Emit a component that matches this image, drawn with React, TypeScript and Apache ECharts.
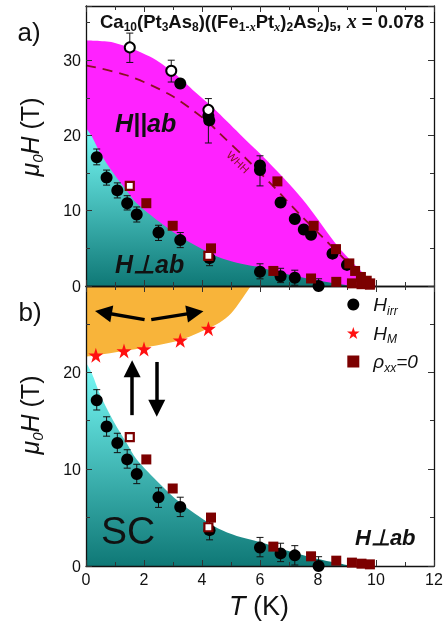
import React, { useEffect, useRef } from "react";
import * as echarts from "echarts";

// ---------- data (T in K, field in T) ----------
const perpHirr = [[0.37,17.1],[0.71,14.4],[1.08,12.7],[1.42,11.0],[1.75,9.5],[2.5,7.1],[3.25,6.1],[4.26,3.7],[6.0,1.9],[6.71,1.3],[7.2,1.1],[8.02,0.0]];
const perpHirrErr = [[0.37,16.1,18.2],[0.71,13.4,15.4],[1.08,11.7,13.7],[1.42,10.1,12.0],[1.75,8.5,10.5],[2.5,6.05,8.07],[3.25,5.1,7.1],[4.26,2.7,5.3],[6.0,0.95,2.95],[6.71,0.45,2.35],[7.2,0.1,2.1],[8.02,0,0.96]];
const paraHirr = [[3.25,26.9],[4.22,22.6],[4.25,22.0],[6.0,16.0],[6.0,15.4],[6.71,11.1],[7.2,8.9],[7.51,7.5],[7.76,6.8],[8.5,4.3],[9.0,2.8]];
const paraHirrOpen = [[1.51,31.7],[2.94,28.6],[4.22,23.4]];
const paraHirrErr = [[1.51,29.7,33.6],[2.94,27.1,30.0],[4.22,19.0,24.9],[6.0,13.3,17.3]];
const perpRho = [[2.08,11.0],[2.99,8.0],[4.31,5.0],[6.46,2.0],[7.76,1.0],[8.63,0.55],[9.17,0.35],[9.5,0.24],[9.79,0.17]];
const perpRhoOpen = [[1.51,13.3],[4.22,4.0]];
const paraRho = [[6.6,13.9],[7.85,8.0],[8.62,4.9],[9.08,3.0],[9.28,2.0],[9.48,1.2],[9.68,0.7],[9.8,0.35]];
const hM = [[0.34,21.75],[1.31,22.2],[2.0,22.4],[3.25,23.3],[4.22,24.5]];
const whh = [[0,29.3],[1.4,28.0],[2.9,25.4],[4.14,22.0],[4.6,20.3],[5.5,17.0],[6.37,13.6],[7.34,9.65],[8.14,6.55],[8.94,3.45],[9.62,0.8],[9.8,0]];
const paraBound = [[0,32.6],[1.0,32.3],[2.2,30.5],[3.0,28.4],[3.9,25.3],[4.4,23.6],[5.3,20.2],[6.1,17.2],[7.0,13.6],[7.6,10.9],[8.7,5.2],[9.3,2.7],[9.85,0.6],[10.0,0]];
const perpBound = [[0,21.0],[0.2,19.9],[0.5,17.6],[0.94,15.0],[1.4,12.7],[1.75,11.0],[2.54,8.5],[3.22,6.6],[4.0,4.9],[4.54,3.9],[5.2,3.1],[5.97,2.5],[6.8,1.7],[7.68,0.96],[8.5,0.4],[9.15,0]];
const hmBound = [[0,21.6],[0.34,21.75],[1.31,22.2],[1.96,22.5],[3.22,23.3],[4.14,24.4],[4.6,25.1],[5.0,26.05],[5.34,27.4],[5.68,28.9]];
// arrows in panel b: [start, end]
const arrows = [
  [[2.02,25.43],[0.6,26.17]],
  [[2.25,25.43],[3.76,26.15]],
  [[1.59,15.57],[1.59,20.36]],
  [[2.44,21.06],[2.44,16.27]],
];
const xTicks = { min: 0, max: 12, interval: 2 };
const yMaxA = 37.2;
const yMaxB = 28.9;

const FONT = "Liberation Sans";
const STAR = "path://M50,0 L61.2,34.5 L97.6,34.5 L68.2,55.9 L79.4,90.5 L50,69.1 L20.6,90.5 L31.8,55.9 L2.4,34.5 L38.8,34.5 Z";
const SQUARE = "path://M0,0 L10,0 L10,10 L0,10 Z";
const DARKRED = "#7c0000";

const xAx = (grid: number, pos: string, labels: boolean) => ({
  type: "value", gridIndex: grid, position: pos, ...xTicks, z: 3,
  axisLine: { show: true, onZero: false, lineStyle: { color: "#111", width: 1.3 } },
  axisTick: { show: true, inside: true, length: 6, lineStyle: { color: "#333", width: 1 } },
  minorTick: { show: true, splitNumber: 2, length: 4, lineStyle: { color: "#333", width: 1 } },
  splitLine: { show: false },
  axisLabel: { show: labels, fontSize: 16, color: "#111", margin: 5, fontFamily: FONT },
});
const yAx = (grid: number, pos: string, labels: boolean, max: number) => ({
  type: "value", gridIndex: grid, position: pos, min: 0, max, interval: 10, z: 3,
  axisLine: { show: true, onZero: false, lineStyle: { color: "#111", width: 1.3 } },
  axisTick: { show: true, inside: true, length: 6, lineStyle: { color: "#333", width: 1 } },
  minorTick: { show: true, splitNumber: 2, length: 4, lineStyle: { color: "#333", width: 1 } },
  splitLine: { show: false },
  axisLabel: { show: labels, fontSize: 16, color: "#111", margin: 5, fontFamily: FONT, showMaxLabel: false },
});

const tealGrad = () => new echarts.graphic.LinearGradient(0, 0, 0, 1, [
  { offset: 0, color: "#78fbf8" },
  { offset: 1, color: "#0f7876" },
]);

const area = (data: number[][], xi: number, yi: number, color: any, extra: any = {}) => ({
  type: "line", xAxisIndex: xi, yAxisIndex: yi, data, symbol: "none", smooth: 0.3, z: 1,
  lineStyle: { width: 0 }, areaStyle: { color, opacity: 1, ...extra }, silent: true,
});

const errBars = (data: number[][], xi: number, yi: number) => ({
  type: "custom", xAxisIndex: xi, yAxisIndex: yi, data, z: 4, silent: true,
  encode: { x: 0, y: [1, 2] },
  renderItem: (params: any, api: any) => {
    const x = api.value(0);
    const p1 = api.coord([x, api.value(1)]);
    const p2 = api.coord([x, api.value(2)]);
    const s = { stroke: "#111", lineWidth: 1 };
    const c = 3.5;
    return {
      type: "group",
      children: [
        { type: "line", shape: { x1: p1[0], y1: p1[1], x2: p2[0], y2: p2[1] }, style: s },
        { type: "line", shape: { x1: p1[0] - c, y1: p1[1], x2: p1[0] + c, y2: p1[1] }, style: s },
        { type: "line", shape: { x1: p2[0] - c, y1: p2[1], x2: p2[0] + c, y2: p2[1] }, style: s },
      ],
    };
  },
});

const scat = (name: string, data: number[][], xi: number, yi: number, symbol: string, size: number, itemStyle: any) => ({
  type: "scatter", name, xAxisIndex: xi, yAxisIndex: yi, data, symbol, symbolSize: size, z: 5,
  itemStyle: { opacity: 1, ...itemStyle },
});

const filledCircle = { color: "#000" };
const openCircle = { color: "#fff", borderColor: "#000", borderWidth: 2 };
const filledSq = { color: DARKRED };
const openSq = { color: "#fff", borderColor: DARKRED, borderWidth: 2.2 };
const starStyle = { color: "#ff1010" };

const option: any = {
  animation: false,
  grid: [
    { left: 86, right: 12, top: 6, height: 280 },
    { left: 86, right: 12, top: 286, height: 280 },
  ],
  xAxis: [xAx(0, "bottom", false), xAx(0, "top", false), xAx(1, "bottom", true), xAx(1, "top", false)],
  yAxis: [yAx(0, "left", true, yMaxA), yAx(0, "right", false, yMaxA), yAx(1, "left", true, yMaxB), yAx(1, "right", false, yMaxB)],
  legend: {
    data: ["Hirr", "HM", "rho"],
    orient: "vertical", left: 347, top: 295, padding: 0,
    itemWidth: 30, itemHeight: 12, itemGap: 7,
    selectedMode: false,
    formatter: (n: string) => ({ Hirr: "{i|H}{s|irr}", HM: "{i|H}{s|M}", rho: "{i|ρ}{s|xx}{i|=0}" } as any)[n],
    textStyle: {
      fontFamily: FONT, color: "#111",
      rich: {
        i: { fontFamily: FONT, fontStyle: "italic", fontSize: 19, lineHeight: 24, color: "#111" },
        s: { fontFamily: FONT, fontStyle: "italic", fontSize: 12, lineHeight: 12, verticalAlign: "bottom", color: "#111" },
      },
    },
  },
  series: [
    // panel a
    area(paraBound, 0, 0, "#ff22ff"),
    area(perpBound, 0, 0, tealGrad()),
    { type: "line", xAxisIndex: 0, yAxisIndex: 0, data: whh, symbol: "none", smooth: 0.3, z: 2,
      lineStyle: { color: "#8b1020", width: 1.8, type: [10, 7] }, silent: true },
    errBars(perpHirrErr, 0, 0),
    errBars(paraHirrErr, 0, 0),
    scat("a-perp-irr", perpHirr, 0, 0, "circle", 12, filledCircle),
    scat("a-para-irr", paraHirr, 0, 0, "circle", 12, filledCircle),
    scat("a-para-irr-open", paraHirrOpen, 0, 0, "circle", 10, openCircle),
    scat("a-perp-rho", perpRho, 0, 0, SQUARE, 10, filledSq),
    scat("a-para-rho", paraRho, 0, 0, SQUARE, 10, filledSq),
    scat("a-perp-rho-open", perpRhoOpen, 0, 0, SQUARE, 8, openSq),
    // panel b
    area(hmBound, 2, 2, "#f8b43a", { origin: "end" }),
    area(perpBound, 2, 2, tealGrad()),
    errBars(perpHirrErr, 2, 2),
    scat("Hirr", perpHirr, 2, 2, "circle", 12, filledCircle),
    scat("rho", perpRho, 2, 2, SQUARE, 10, filledSq),
    scat("b-perp-rho-open", perpRhoOpen, 2, 2, SQUARE, 8, openSq),
    {
      ...scat("HM", hM, 2, 2, STAR, 15, starStyle),
      markLine: {
        silent: true, animation: false,
        symbol: ["none", "triangle"], symbolSize: 17,
        label: { show: false },
        lineStyle: { color: "#000", width: 3.5, type: "solid", opacity: 1 },
        data: arrows.map(([a, b]) => [{ coord: a }, { coord: b }]),
      },
    },
  ],
  graphic: [
    { type: "text", x: 29, y: 32, z: 10, style: { text: "a)", fontFamily: FONT, fontSize: 26, fill: "#111", align: "center", verticalAlign: "middle" } },
    { type: "text", x: 30, y: 312, z: 10, style: { text: "b)", fontFamily: FONT, fontSize: 26, fill: "#111", align: "center", verticalAlign: "middle" } },
    {
      type: "text", x: 262, y: 21, z: 10,
      style: {
        text: "{n|Ca}{s|10}{n|(Pt}{s|3}{n|As}{s|8}{n|)((Fe}{s|1-}{si|x}{n|Pt}{si|x}{n|)}{s|2}{n|As}{s|2}{n|)}{s|5}{n|, }{xi|x}{n| = 0.078}",
        fill: "#111", align: "center", verticalAlign: "middle",
        rich: {
          n: { fontFamily: FONT, fontWeight: "bold", fontSize: 18.5, lineHeight: 24 },
          s: { fontFamily: FONT, fontWeight: "bold", fontSize: 12, lineHeight: 12, verticalAlign: "bottom" },
          si: { fontFamily: "Liberation Serif", fontStyle: "italic", fontWeight: "bold", fontSize: 12.5, lineHeight: 12, verticalAlign: "bottom" },
          xi: { fontFamily: "Liberation Serif", fontStyle: "italic", fontWeight: "bold", fontSize: 20, lineHeight: 24 },
        },
      },
    },
    ...[137, 415].map((yy) => ({
      type: "text", x: 30, y: yy, rotation: Math.PI / 2, z: 10,
      style: {
        text: "{m|μ}{s|0}{m|H}{n| (T)}", fill: "#111", align: "center", verticalAlign: "middle",
        rich: {
          m: { fontFamily: FONT, fontStyle: "italic", fontSize: 25, lineHeight: 30 },
          s: { fontFamily: FONT, fontStyle: "italic", fontSize: 15, lineHeight: 15, verticalAlign: "bottom" },
          n: { fontFamily: FONT, fontSize: 25, lineHeight: 30 },
        },
      },
    })),
    {
      type: "text", x: 259, y: 606, z: 10,
      style: {
        text: "{t|T}{n| (K)}", fill: "#111", align: "center", verticalAlign: "middle",
        rich: {
          t: { fontFamily: FONT, fontStyle: "italic", fontSize: 27, lineHeight: 30 },
          n: { fontFamily: FONT, fontSize: 27, lineHeight: 30 },
        },
      },
    },
    { type: "text", x: 115, y: 123, z: 10, style: { text: "H||ab", fontFamily: FONT, fontStyle: "italic", fontWeight: "bold", fontSize: 25, fill: "#111", align: "left", verticalAlign: "middle" } },
    { type: "text", x: 115, y: 264, z: 10, style: { text: "H⊥ab", fontFamily: FONT, fontStyle: "italic", fontWeight: "bold", fontSize: 25, fill: "#111", align: "left", verticalAlign: "middle" } },
    { type: "text", x: 355, y: 537, z: 10, style: { text: "H⊥ab", fontFamily: FONT, fontStyle: "italic", fontWeight: "bold", fontSize: 22, fill: "#111", align: "left", verticalAlign: "middle" } },
    { type: "text", x: 101, y: 530, z: 10, style: { text: "SC", fontFamily: FONT, fontSize: 39, fill: "#111", align: "left", verticalAlign: "middle" } },
    { type: "text", x: 238, y: 162, rotation: -0.78, z: 10, style: { text: "WHH", fontFamily: FONT, fontSize: 11, fill: "#8b1020", align: "center", verticalAlign: "middle" } },
  ],
};

export default function App() {
  const ref = useRef<HTMLDivElement>(null);
  useEffect(() => {
    const chart = echarts.init(ref.current!, null, { renderer: "svg" });
    chart.setOption(option);
    return () => chart.dispose();
  }, []);
  return <div ref={ref} style={{ position: "fixed", left: 0, top: 0, width: 446, height: 629 }} />;
}
